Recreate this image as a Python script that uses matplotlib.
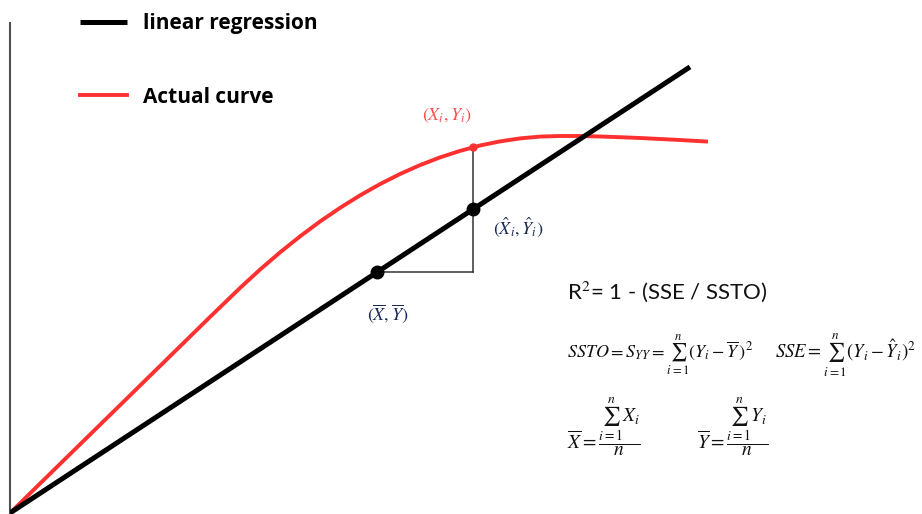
import matplotlib
matplotlib.use("Agg")
import matplotlib.pyplot as plt

# ---- data (origin at the lower-left corner of the plot) ----
curve_x = [0, 50, 100, 150, 200, 230, 250, 270, 290, 310, 330, 350, 370, 390, 410,
           430, 450, 470, 490, 510, 530, 550, 570, 590, 610, 630, 650, 670, 696]
curve_y = [0, 49, 98, 147, 196, 225, 243.4, 260.6, 276.6, 291.5, 305.1, 317.6, 328.9,
           339.0, 347.9, 355.6, 362.1, 367.5, 371.6, 374.6, 376.4, 377.0, 377.0, 376.5,
           375.8, 375.0, 374.0, 373.0, 371.5]

reg_x = [0, 680]
reg_slope = 0.656
reg_y = [reg_slope * v for v in reg_x]

x_bar = 367
y_bar = reg_slope * x_bar
x_i = 463
y_i = 366.5
y_hat = reg_slope * x_i

series_labels = ["linear regression", "Actual curve"]
series_colors = ["#000000", "#ff3030"]

plt.rcParams['mathtext.fontset'] = 'stix'

fig = plt.figure(figsize=(9.22, 5.14), dpi=100)
W, H = 922, 514
ax = fig.add_axes([10 / W, 0, (W - 10) / W, (H - 23) / H])
ax.set_xlim(0, W - 10)
ax.set_ylim(-1, H - 24)
for s in ["top", "right", "bottom"]:
    ax.spines[s].set_visible(False)
ax.spines["left"].set_color("#505050")
ax.spines["left"].set_linewidth(1.5)
ax.set_xticks([])
ax.set_yticks([])

# curves
l_reg, = ax.plot(reg_x, reg_y, color=series_colors[0], lw=3.6, solid_capstyle='butt', zorder=3)
l_act, = ax.plot(curve_x, curve_y, color=series_colors[1], lw=2.8, zorder=2,
                 solid_joinstyle='round')

# residual construction lines
ax.plot([x_bar, x_i], [y_bar, y_bar], color="#333333", lw=1.1, zorder=1)
ax.plot([x_i, x_i], [y_bar, y_i], color="#333333", lw=1.1, zorder=1)
ax.plot([x_bar, x_i], [y_bar, y_hat], 'o', color='black', ms=9, zorder=4)
ax.plot([x_i], [y_i], 'o', color=series_colors[1], ms=5, zorder=4)

# point labels
ax.text(x_i - 26, y_i + 31, r"$(X_i,Y_i)$", color="#ff5050", fontsize=13,
        ha='center', va='center')
ax.text(x_i + 20, y_hat - 18, r"$(\hat{X}_i,\hat{Y}_i)$", color="#1a2a55", fontsize=13,
        ha='left', va='center')
ax.text(x_bar + 11, y_bar - 41, r"$(\overline{X},\overline{Y})$", color="#1a2a55", fontsize=13,
        ha='center', va='center')

# legend
leg = fig.legend([l_reg, l_act], series_labels, loc='upper left',
                 bbox_to_anchor=(80 / W, 1 - 13.5 / H), bbox_transform=fig.transFigure,
                 frameon=False, handlelength=2.26, handletextpad=0.77, labelspacing=2.5,
                 borderpad=0, borderaxespad=0,
                 prop={'family': 'Open Sans', 'weight': 'bold', 'size': 15})

# formulas
ax.text(557, 221, r"R$^2$= 1 - (SSE / SSTO)", fontsize=16, family='Lato',
        ha='left', va='center', color='#111111')
ax.text(557, 158, r"$SSTO = S_{YY} = \sum_{i=1}^{n}(Y_i - \overline{Y}\,)^2$",
        fontsize=13, ha='left', va='center', color='#111111')
ax.text(765, 158, r"$SSE = \sum_{i=1}^{n}(Y_i - \hat{Y}_i)^2$",
        fontsize=13.5, ha='left', va='center', color='#111111')
ax.text(557, 86, r"$\overline{X} = \dfrac{\sum_{i=1}^{n} X_i}{n}$",
        fontsize=14, ha='left', va='center', color='#111111')
ax.text(687, 86, r"$\overline{Y} = \dfrac{\sum_{i=1}^{n} Y_i}{n}$",
        fontsize=14, ha='left', va='center', color='#111111')

fig.savefig("out.png", dpi=100)
